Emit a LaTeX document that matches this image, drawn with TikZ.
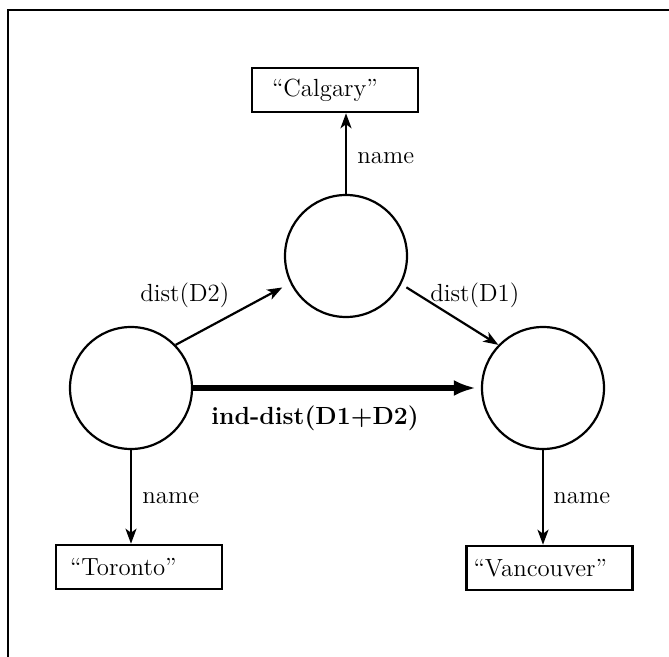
\documentclass[tikz,border=0pt]{standalone}
\usetikzlibrary{arrows.meta}
\begin{document}
\begin{tikzpicture}[x=0.5pt,y=-0.5pt,
  every node/.style={font=\fontsize{12.4}{15}\selectfont},
  state/.style={circle,draw,line width=1.1pt,minimum size=61pt,inner sep=0pt},
  valbox/.style={draw,line width=1.3pt,minimum height=22pt,align=left,inner ysep=0pt},
  arr/.style={line width=1.1pt,-{Stealth[length=7.5pt,width=5.5pt,inset=2pt]}},
  bigarr/.style={line width=3pt,-{Latex[length=11pt,width=8pt]}},
  lbl/.style={inner sep=0pt,anchor=base west}]
\useasboundingbox (0,0) rectangle (669,657);

% frame
\draw[line width=1.3pt] (8,657) -- (8,10) -- (669,10);

% objects
\node[state] (t) at (346,256) {};
\node[state] (l) at (131,388) {};
\node[state] (r) at (543,388) {};

% name values
\node[valbox,inner xsep=10pt,text width=63pt] (cal) at (335,90) {“Calgary”};
\node[valbox,inner xsep=7pt,text width=69pt] (tor) at (139,567) {“Toronto”};
\node[valbox,inner xsep=3.5pt,text width=76pt] (van) at (549.5,568) {“Vancouver”};

% edges
\draw[arr] (t.north) -- (t.north |- cal.south);
\draw[arr] (l.south) -- (l.south |- tor.north);
\draw[arr] (r.south) -- (r.south |- van.north);
\draw[arr,shorten >=4.5pt] (l.44) -- (t.206);
\draw[arr,shorten <=3pt] (t.-27) -- (r.136);
\draw[bigarr,shorten >=2.5pt] (l.east) -- (r.west);

% edge labels
\node[lbl] (n1) at (357,164) {name};
\node[lbl] (n2) at (142,503) {name};
\node[lbl] (n3) at (553,503) {name};
\node[lbl] (d2) at (140,302) {dist(D2)};
\node[lbl] (d1) at (430,302) {dist(D1)};
\node[lbl,font=\fontsize{12.4}{15}\selectfont\bfseries] (ind) at (211,424) {ind-dist(D1+D2)};
\end{tikzpicture}
\end{document}
